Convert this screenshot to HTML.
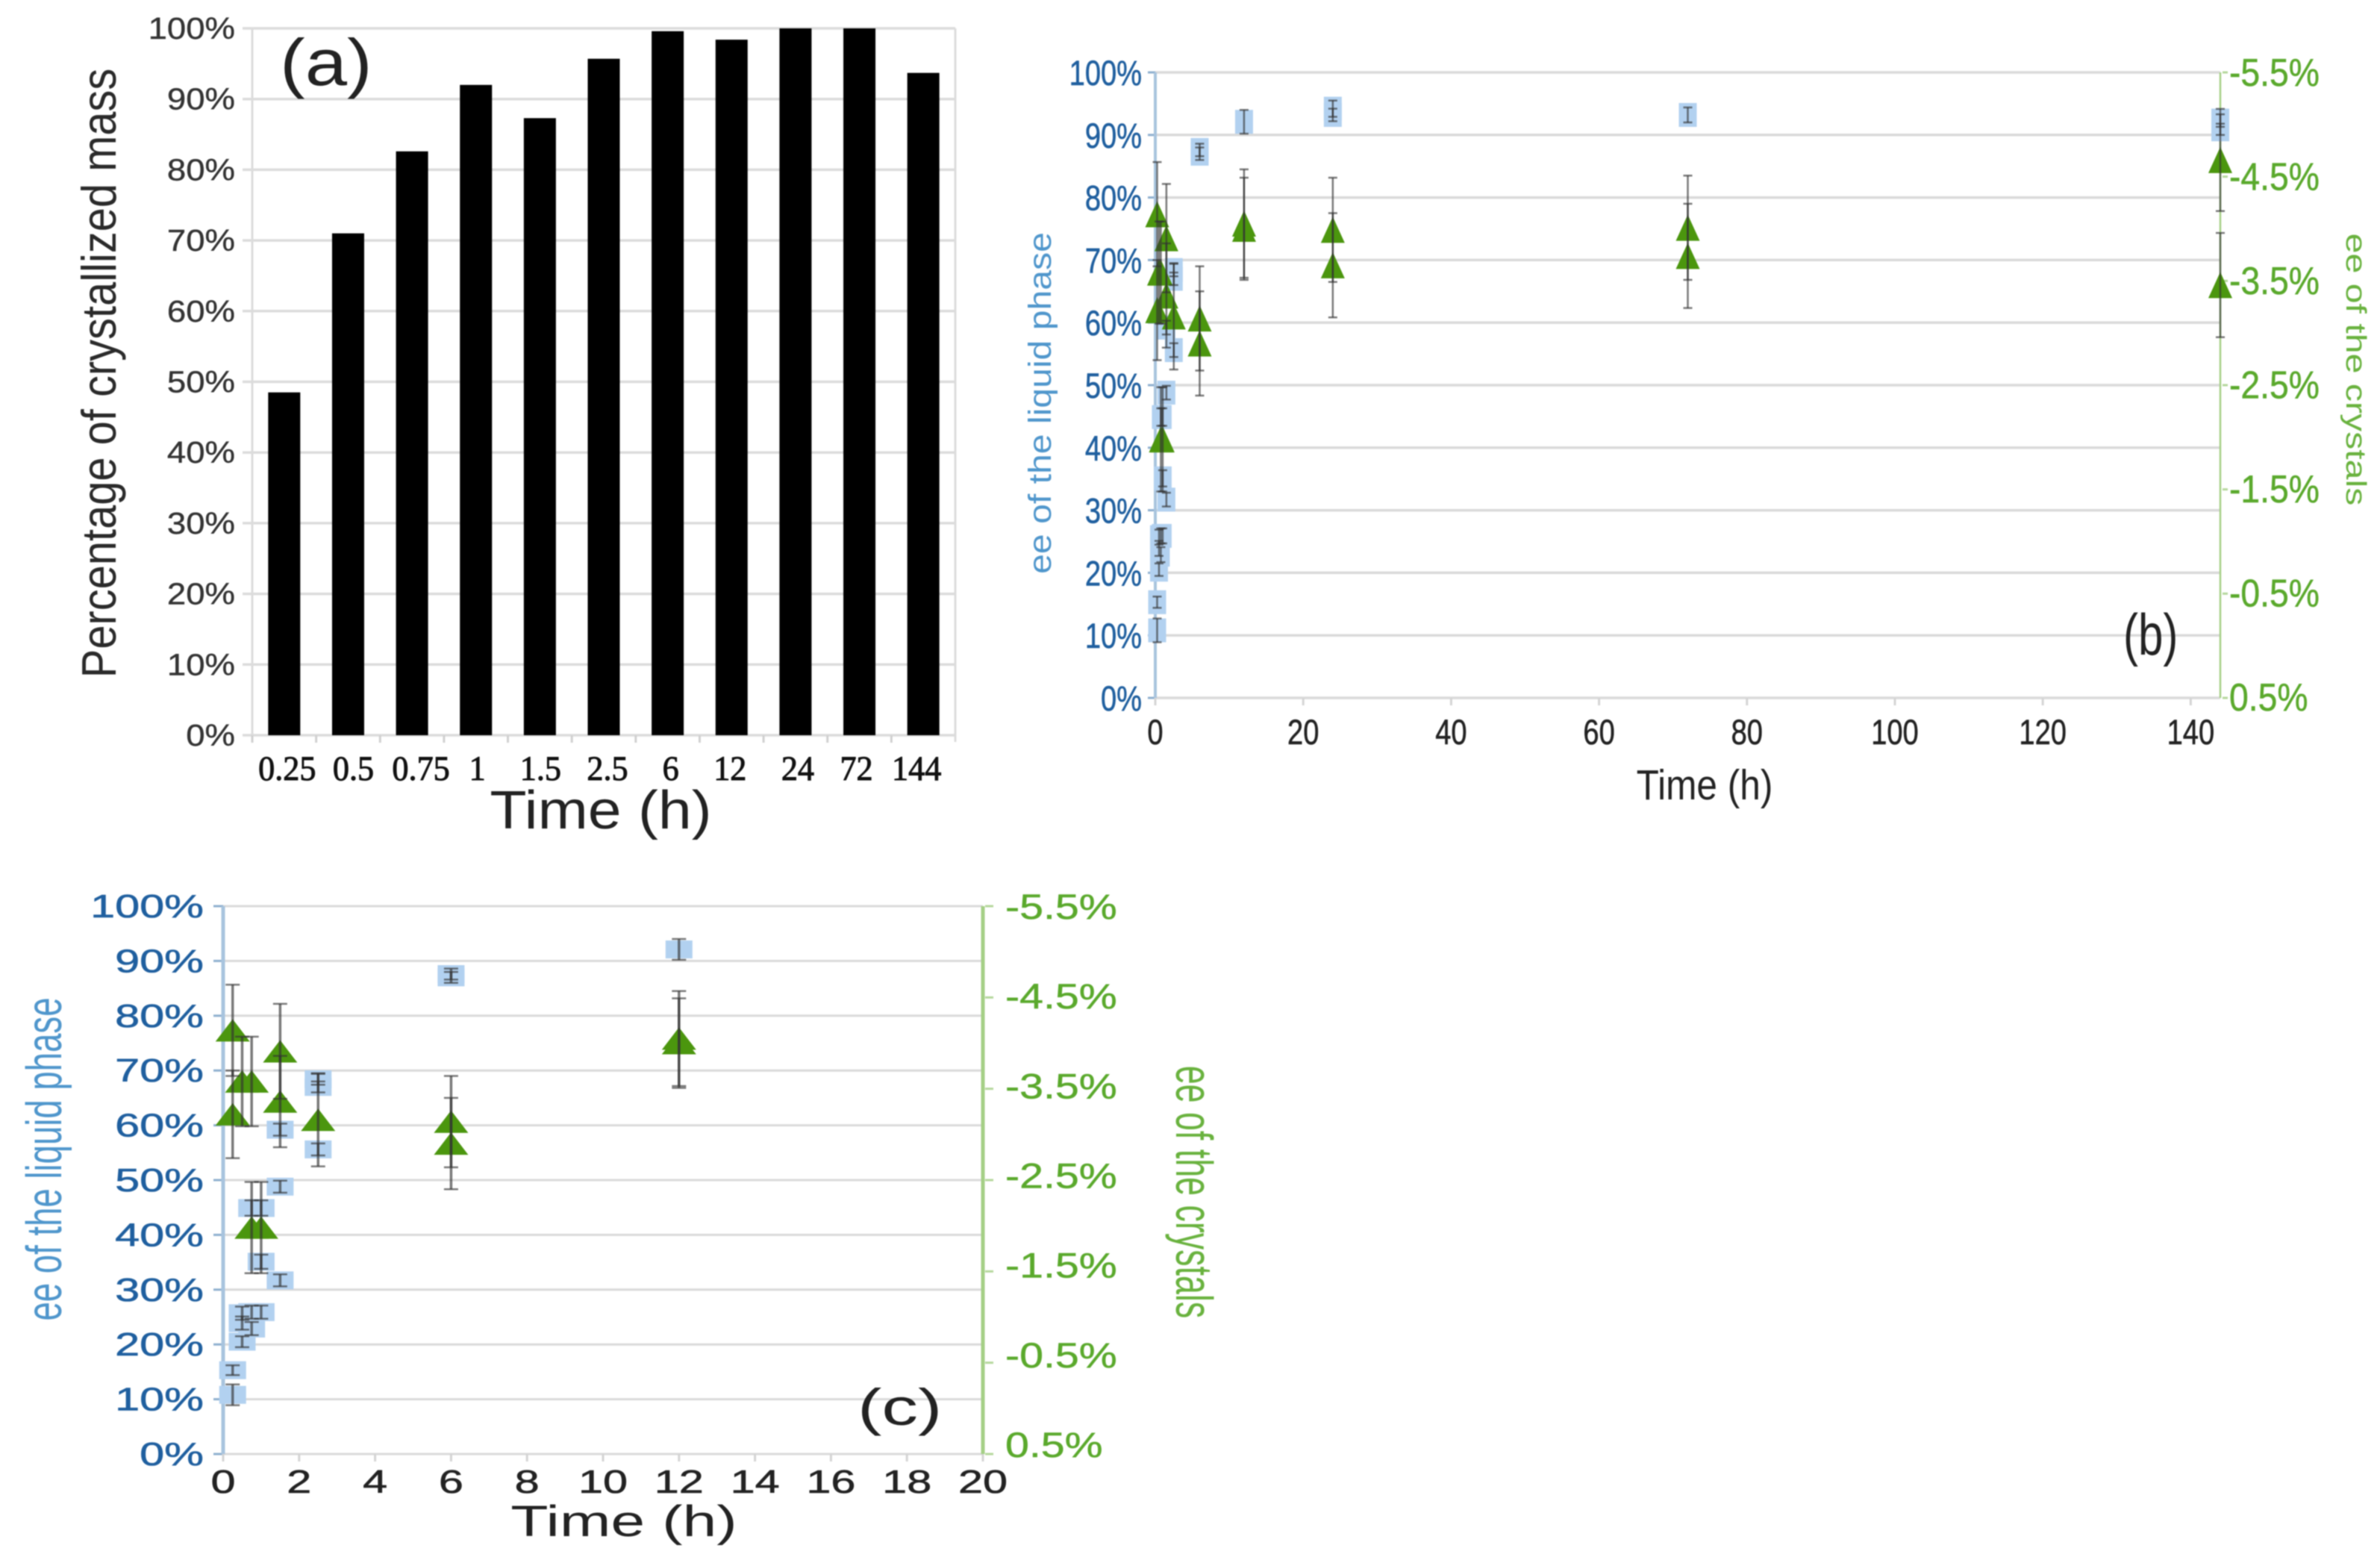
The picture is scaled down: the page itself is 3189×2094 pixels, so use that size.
<!DOCTYPE html>
<html lang="en">
<head>
<meta charset="utf-8">
<title>Crystallized mass and enantiomeric excess over time</title>
<style>
html,body{margin:0;padding:0;background:#fff;width:3189px;height:2094px;overflow:hidden}
svg{display:block;filter:blur(.9px)}
text{font-family:"Liberation Sans",sans-serif}
</style>
</head>
<body>
<svg id="figure" xmlns="http://www.w3.org/2000/svg" width="3189" height="2094" viewBox="0 0 3189 2094">
  <rect width="3189" height="2094" fill="#fff"/>

  <g id="chart-a">
    <g id="a-marks"></g>
    <text transform="translate(375,114) scale(1.15,1)" font-size="88" fill="#222">(a)</text>
    <text transform="translate(155,500) rotate(-90) scale(.89,1)" text-anchor="middle" font-size="65" fill="#2a2a2a">Percentage of crystallized mass</text>
    <text transform="translate(805,1110) scale(1.12,1)" text-anchor="middle" font-size="72" fill="#222">Time (h)</text>
  </g>

  <g id="chart-b">
    <g id="b-marks"></g>
    <text transform="translate(2845,877) scale(.77,1)" font-size="78" fill="#222">(b)</text>
    <text transform="translate(1408,540) rotate(-90) scale(1.12,1)" text-anchor="middle" font-size="43" fill="#4f96cc">ee of the liquid phase</text>
    <text transform="translate(3144,495) rotate(90) scale(1.27,1)" text-anchor="middle" font-size="38" fill="#69b23e">ee of the crystals</text>
    <text transform="translate(2284,1071) scale(.87,1)" text-anchor="middle" font-size="57" fill="#222">Time (h)</text>
  </g>

  <g id="chart-c">
    <g id="c-marks"></g>
    <text transform="translate(1149,1909) scale(1.41,1)" font-size="69" fill="#222">(c)</text>
    <text transform="translate(82,1553) rotate(-90) scale(.68,1)" text-anchor="middle" font-size="67" fill="#4f96cc">ee of the liquid phase</text>
    <text transform="translate(1576,1597) rotate(90) scale(.64,1)" text-anchor="middle" font-size="70" fill="#69b23e">ee of the crystals</text>
    <text transform="translate(836,2058) scale(1.42,1)" text-anchor="middle" font-size="58" fill="#222">Time (h)</text>
  </g>
</svg>

<script>
// Panel (a) data
const massCategories = ['0.25', '0.5', '0.75', '1', '1.5', '2.5', '6', '12', '24', '72', '144'];
const massValues = [48.5, 71, 82.6, 92, 87.3, 95.7, 99.6, 98.4, 100, 100, 93.7];

// ee of the liquid phase (%), with error bars
const liquidTimes = [0.25, 0.25, 0.5, 0.5, 0.5, 0.75, 0.75, 0.75, 1, 1, 1, 1.5, 1.5, 1.5, 2.5, 2.5, 2.5, 6, 6, 12, 24, 24, 72, 144, 144];
const liquidValues = [15.3, 10.8, 20.5, 23.9, 25.7, 22.9, 25.9, 44.9, 25.9, 35.1, 44.9, 31.7, 48.8, 59.2, 55.6, 67.0, 68.4, 87.0, 87.6, 92.1, 93.2, 94.2, 93.2, 90.9, 92.3];
const liquidErrors = [0.9, 1.9, 1.0, 1.2, 1.2, 1.2, 1.2, 1.4, 1.2, 1.3, 1.4, 1.1, 1.1, 1.1, 1.1, 1.0, 1.0, 1.0, 1.0, 1.9, 1.0, 1.3, 1.2, 0.9, 1.0];

// ee of the crystals (%), with error bars
const crystalTimes = [0.25, 0.25, 0.5, 0.75, 0.75, 1, 1.5, 1.5, 2.5, 6, 6, 12, 12, 24, 24, 72, 72, 144, 144];
const crystalValues = [-4.14, -3.22, -3.58, -3.58, -1.98, -1.98, -3.91, -3.36, -3.16, -3.14, -2.90, -4.05, -4.00, -3.99, -3.65, -4.01, -3.74, -4.66, -3.46];
const crystalErrors = [0.50, 0.48, 0.49, 0.49, 0.50, 0.50, 0.52, 0.50, 0.51, 0.50, 0.50, 0.52, 0.49, 0.50, 0.50, 0.50, 0.50, 0.49, 0.50];

// Tick values and labels
const percentTicks = [0, 10, 20, 30, 40, 50, 60, 70, 80, 90, 100];
const crystalTicks = [0.5, -0.5, -1.5, -2.5, -3.5, -4.5, -5.5];
const hourTicksB = [0, 20, 40, 60, 80, 100, 120, 140];
const hourTicksC = [0, 2, 4, 6, 8, 10, 12, 14, 16, 18, 20];

const SVG_NS = 'http://www.w3.org/2000/svg';

function node(tag, parent, attrs) {
  const el = document.createElementNS(SVG_NS, tag);
  for (const k in attrs) el.setAttribute(k, attrs[k]);
  parent.appendChild(el);
  return el;
}
function line(parent, x1, y1, x2, y2, stroke, width) {
  return node('line', parent, {x1, y1, x2, y2, stroke, 'stroke-width': width});
}
function label(parent, x, y, str, size, sx, anchor, fill, weight) {
  const el = node('text', parent, {
    transform: 'translate(' + x + ',' + y + ') scale(' + sx + ',1)',
    'font-size': size, 'text-anchor': anchor, fill,
    stroke: fill, 'stroke-width': weight || 0
  });
  el.textContent = str;
  return el;
}

/* ---------- Panel (a) ---------- */
function drawBars() {
  const root = document.getElementById('a-marks');
  const left = 338, right = 1280, top = 38, bottom = 985;
  const band = (right - left) / massCategories.length;
  const barW = 43;
  // Hand-placed label offsets seen in the picture (layout only, not data)
  const labelNudge = [4, 7, 12, 2, 1, 5, 4, -2, 3, -4, -9];
  const xCenter = i => left + (i + 0.5) * band;
  const y = p => bottom - (p / 100) * (bottom - top);

  for (const t of percentTicks) {
    const grid = line(root, left - 13, y(t), right, y(t), '#dcdcdc', 3.5);
    
    
    const tl = label(root, 315, y(t) + 14, t + '%', 41, 1.11, 'end', '#333', 0.4);
    
    
  }
  const rightEdge = line(root, right, top, right, bottom + 9, '#dcdcdc', 3);
  
  
  const leftEdge = line(root, left, top, left, bottom + 9, '#dcdcdc', 3);
  
  

  massCategories.forEach((c, i) => {
    const tick = line(root, left + i * band, bottom, left + i * band, bottom + 10, '#d0d0d0', 3);
    
    
    const bar = node('rect', root, {
      x: xCenter(i) - barW / 2, y: y(massValues[i]), width: barW,
      height: bottom - y(massValues[i]), fill: '#000'
    });
    
    
    const tl = label(root, xCenter(i) + labelNudge[i], 1045, c, 47, 0.94, 'middle', '#111', 1);
    tl.style.fontFamily = '"Liberation Serif", serif';
    
    
  });
}

/* ---------- Panels (b) and (c) ---------- */
function drawScatter(rootId, cfg) {
  const root = document.getElementById(rootId);
  const xS = t => cfg.left + (t / cfg.tMax) * (cfg.right - cfg.left);
  const yL = p => cfg.bottom - (p / 100) * (cfg.bottom - cfg.top);
  const yR = v => cfg.bottom - ((0.5 - v) / 6) * (cfg.bottom - cfg.top);
  const yRLabel = v => cfg.rLabelBottom - ((0.5 - v) / 6) * (cfg.rLabelBottom - cfg.rLabelTop);

  // Gridlines, left axis ticks and labels
  for (const t of percentTicks) {
    const grid = line(root, cfg.left, yL(t), cfg.right, yL(t), '#dadada', cfg.gridW);
    
    
    const tick = line(root, cfg.left - cfg.tickLen, yL(t), cfg.left, yL(t), '#8fb0cf', 3);
    
    
    const tl = label(root, cfg.lLabelX, yL(t) + cfg.lLabelDy, t + '%', cfg.lSize, cfg.lSx, 'end', '#1f5f9f', 0.6);
    
    
  }

  // X axis ticks and labels
  for (const h of cfg.hourTicks) {
    const tick = line(root, xS(h), cfg.bottom, xS(h), cfg.bottom + 10, '#d4d4d4', 3);
    
    
    const tl = label(root, xS(h), cfg.xLabelY, String(h), cfg.lSize, cfg.lSx, 'middle', '#222', 0.6);
    
    
  }

  // Axis lines
  const leftAxis = line(root, cfg.left, cfg.top, cfg.left, cfg.bottom, '#a8c4de', cfg.leftAxisW);
  
  
  const rightAxis = line(root, cfg.right, cfg.top, cfg.right, cfg.bottom, '#a5cf86', cfg.rightAxisW);
  
  

  // Right axis ticks and labels
  for (const v of crystalTicks) {
    const tick = line(root, cfg.right + 3, yR(v), cfg.right + cfg.rTickLen, yR(v), '#b5d79c', 3);
    
    
    const tl = label(root, cfg.rLabelX, yRLabel(v) + cfg.rLabelDy, v.toFixed(1) + '%', cfg.rSize, cfg.rSx, 'start', '#5aa92c', 0.5);
    
    
  }

  // Blue squares: ee of the liquid phase
  liquidTimes.forEach((t, i) => {
    if (t > cfg.tMax) return;
    const sq = node('rect', root, {
      x: xS(t) - cfg.sqW / 2, y: yL(liquidValues[i]) - cfg.sqH / 2,
      width: cfg.sqW, height: cfg.sqH, fill: '#b2d1f0'
    });
    
    
  });

  // Green triangles: ee of the crystals
  crystalTimes.forEach((t, i) => {
    if (t > cfg.tMax) return;
    const cx = xS(t), cy = yR(crystalValues[i]);
    const tri = node('polygon', root, {
      points: [cx, cy - cfg.triH / 2, cx + cfg.triW / 2, cy + cfg.triH / 2, cx - cfg.triW / 2, cy + cfg.triH / 2].join(' '),
      fill: '#4b960e'
    });
    
    
  });

  // Error bars on top of the markers
  function errorBar(group, x, yHigh, yLow) {
    line(group, x, yHigh, x, yLow, cfg.errColor, cfg.errW);
    line(group, x - cfg.capW / 2, yHigh, x + cfg.capW / 2, yHigh, cfg.errColor, cfg.capStroke);
    line(group, x - cfg.capW / 2, yLow, x + cfg.capW / 2, yLow, cfg.errColor, cfg.capStroke);
  }
  liquidTimes.forEach((t, i) => {
    if (t > cfg.tMax) return;
    const g = node('g', root, {});
    
    
    errorBar(g, xS(t), yL(liquidValues[i] + liquidErrors[i]), yL(liquidValues[i] - liquidErrors[i]));
  });
  crystalTimes.forEach((t, i) => {
    if (t > cfg.tMax) return;
    const g = node('g', root, {});
    
    
    errorBar(g, xS(t), yR(crystalValues[i] - crystalErrors[i]), yR(crystalValues[i] + crystalErrors[i]));
  });
}

drawBars();

drawScatter('b-marks', {
  left: 1548, right: 2975, top: 97, bottom: 935, tMax: 144, hourTicks: hourTicksB,
  gridW: 3.5, tickLen: 10, rTickLen: 10, leftAxisW: 4, rightAxisW: 2.5,
  lLabelX: 1530, lLabelDy: 17, lSize: 47, lSx: 0.81, xLabelY: 997,
  rLabelX: 2987, rLabelDy: 18, rSize: 52, rSx: 0.89, rLabelTop: 97, rLabelBottom: 934,
  sqW: 24, sqH: 32, triW: 32, triH: 35,
  errColor: 'rgba(50,50,50,.65)', errW: 2.5, capW: 12, capStroke: 2.5
});

drawScatter('c-marks', {
  left: 299, right: 1317, top: 1214, bottom: 1948, tMax: 20, hourTicks: hourTicksC,
  gridW: 3, tickLen: 13, rTickLen: 14, leftAxisW: 5, rightAxisW: 5,
  lLabelX: 273, lLabelDy: 15, lSize: 44, lSx: 1.35, xLabelY: 2000,
  rLabelX: 1347, rLabelDy: 16, rSize: 47, rSx: 1.22, rLabelTop: 1215, rLabelBottom: 1936,
  sqW: 36, sqH: 24, triW: 46, triH: 30,
  errColor: 'rgba(50,50,50,.65)', errW: 3.5, capW: 19, capStroke: 2.5
});
</script>
</body>
</html>
